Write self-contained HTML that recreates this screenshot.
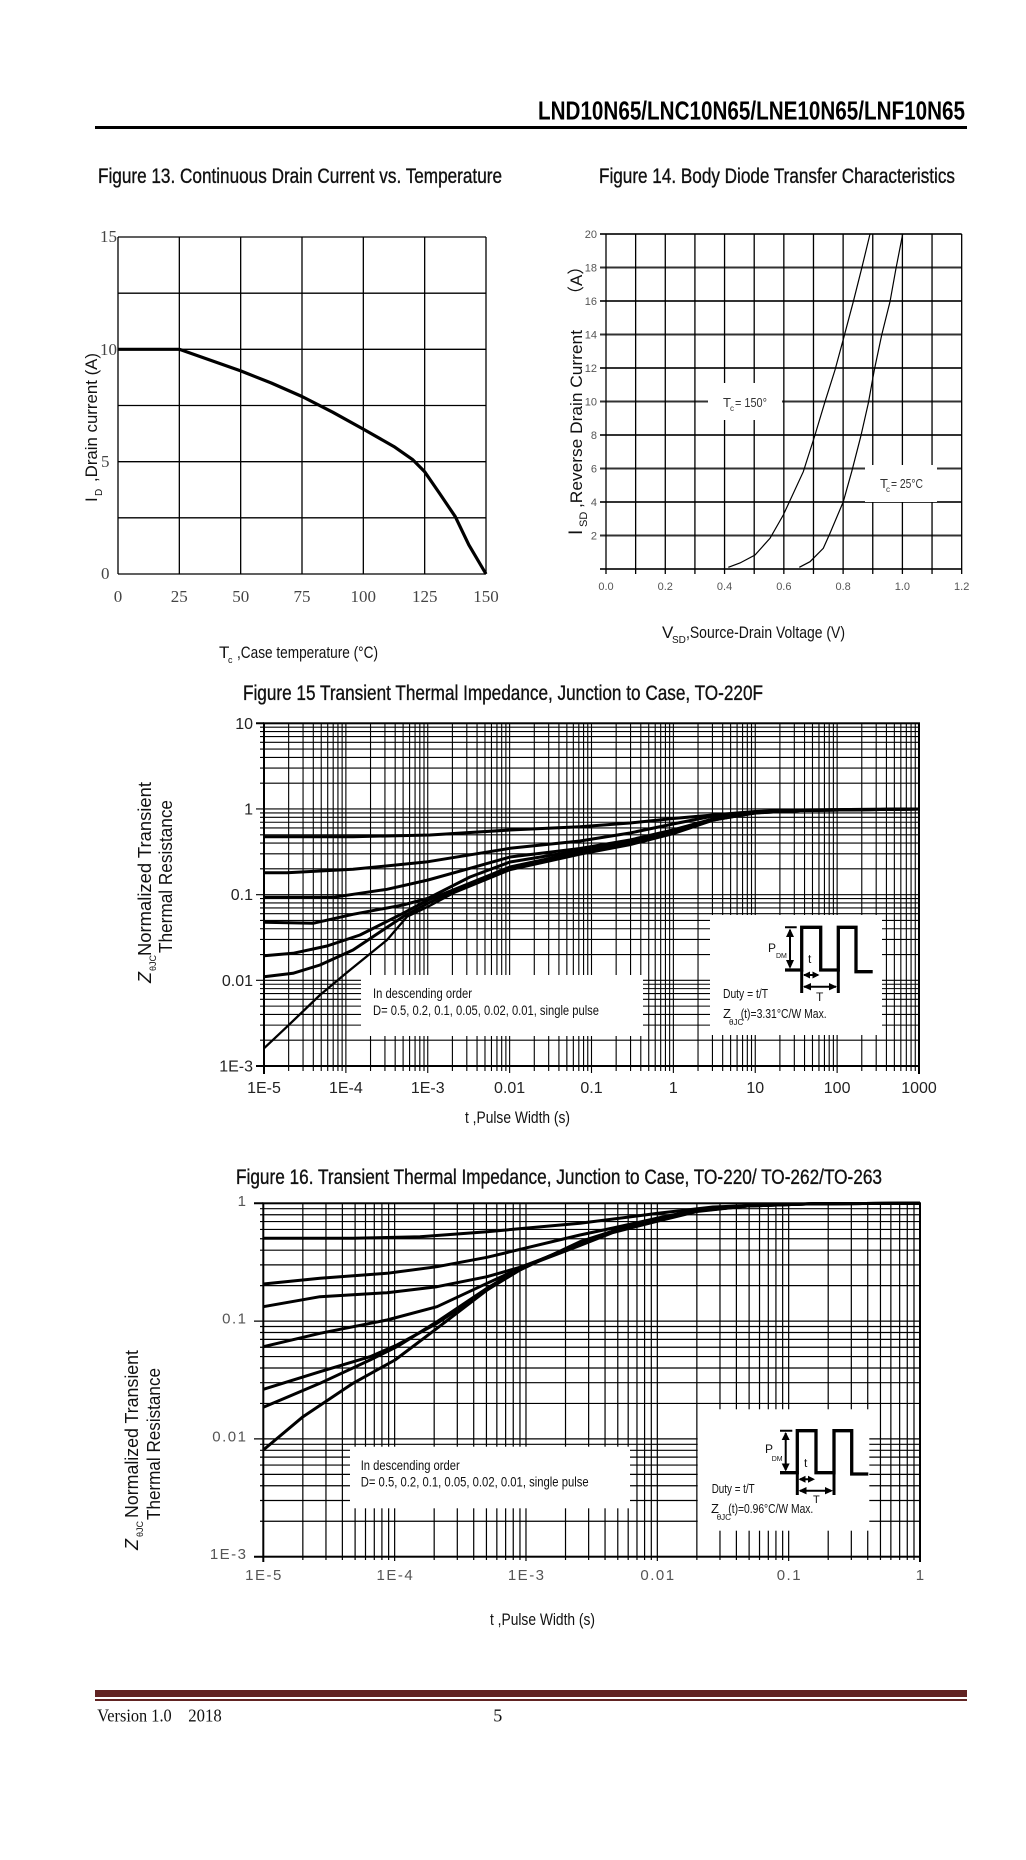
<!DOCTYPE html>
<html><head><meta charset="utf-8">
<style>
html,body{margin:0;padding:0;background:#fff;width:1026px;height:1860px;overflow:hidden}
svg{display:block}
.s{font-family:"Liberation Sans",Arial,sans-serif}
.n{font-family:"Liberation Sans Narrow","Liberation Sans",Arial,sans-serif}
.r{font-family:"Liberation Serif","Times New Roman",serif}
.t{stroke:#111;stroke-width:0.35}
</style></head>
<body>
<svg width="1026" height="1860" viewBox="0 0 1026 1860" xmlns="http://www.w3.org/2000/svg">
<rect x="0" y="0" width="1026" height="1860" fill="#fff"/>

<!-- HEADER -->
<text class="n" x="538" y="119.5" font-size="26" font-weight="bold" textLength="427" lengthAdjust="spacingAndGlyphs" fill="#000">LND10N65/LNC10N65/LNE10N65/LNF10N65</text>
<rect x="95" y="126" width="872" height="3" fill="#000"/>

<!-- FIGURE 13 -->
<text class="n t" x="98" y="183" font-size="21" textLength="404" lengthAdjust="spacingAndGlyphs" fill="#111">Figure 13. Continuous Drain Current vs. Temperature</text>
<g stroke="#000" stroke-width="1.3" fill="none">
<path d="M118 237V574M179.33 237V574M240.67 237V574M302 237V574M363.33 237V574M424.67 237V574M486 237V574"/>
<path d="M118 237H486M118 293.17H486M118 349.33H486M118 405.5H486M118 461.67H486M118 517.83H486M118 574H486"/>
</g>
<polyline fill="none" stroke="#000" stroke-width="3.2" stroke-linejoin="round" points="118,349.3 179.3,349.3 240.7,370.9 271.3,383 302,396.5 332.7,412.2 363.3,429.1 394,446.6 412.4,459.4 424.7,471.8 439.4,493.1 455.3,516.7 468.8,544.8 486,574"/>
<g class="r" font-size="17" fill="#444">
<text x="100" y="242">15</text>
<text x="100" y="355">10</text>
<text x="101" y="467">5</text>
<text x="101" y="579">0</text>
</g>
<g class="r" font-size="17" fill="#444" text-anchor="middle">
<text x="118" y="602">0</text>
<text x="179.3" y="602">25</text>
<text x="240.7" y="602">50</text>
<text x="302" y="602">75</text>
<text x="363.3" y="602">100</text>
<text x="424.7" y="602">125</text>
<text x="486" y="602">150</text>
</g>
<text class="n" x="219" y="658" font-size="17" fill="#111">T</text>
<text class="n" x="228" y="663" font-size="9" fill="#111">c</text>
<text class="n" x="237" y="658" font-size="17" textLength="141" lengthAdjust="spacingAndGlyphs" fill="#111">,Case temperature (°C)</text>
<g transform="translate(97,502) rotate(-90)" class="s" fill="#111">
<text x="0" y="0" font-size="17">I</text>
<text x="6" y="5" font-size="10">D</text>
<text x="20" y="0" font-size="17" textLength="129" lengthAdjust="spacingAndGlyphs">,Drain current (A)</text>
</g>

<!-- FIGURE 14 -->
<text class="n t" x="599" y="183" font-size="21" textLength="356" lengthAdjust="spacingAndGlyphs" fill="#111">Figure 14. Body Diode Transfer Characteristics</text>
<g stroke="#333" stroke-width="2" fill="none">
<path d="M600 569H961.7M600 535.5H961.7M600 502H961.7M600 468.5H961.7M600 435H961.7M600 401.5H961.7M600 368H961.7M600 334.5H961.7M600 301H961.7M600 267.5H961.7M600 234H961.7"/>
</g>
<g stroke="#000" stroke-width="1.3" fill="none">
<path d="M606 234V574M635.64 234V574M665.28 234V574M694.92 234V574M724.56 234V574M754.2 234V574M783.84 234V574M813.48 234V574M843.12 234V574M872.76 234V574M902.4 234V574M932.04 234V574M961.68 234V574"/>
</g>
<rect x="708" y="383" width="74" height="37" fill="#fff"/>
<rect x="865" y="465" width="72" height="37" fill="#fff"/>
<polyline fill="none" stroke="#000" stroke-width="1.2" points="728.3,567.3 740,563 755,555 770,538.3 783.3,515 803.3,471.7 815,435 825,401.7 835,370 844,336.7 853.3,301.7 861.7,268.3 870,234"/>
<polyline fill="none" stroke="#000" stroke-width="1.2" points="799.3,567.3 810,561.7 823.3,548.3 830,533.3 843.3,501.7 851.7,471.7 860.7,436.7 868.3,403.3 874.3,370 881.7,335 890,301.7 896,268.3 902.7,234"/>
<g class="s" font-size="11" fill="#555" text-anchor="end">
<text x="597" y="238">20</text>
<text x="597" y="271.5">18</text>
<text x="597" y="305">16</text>
<text x="597" y="338.5">14</text>
<text x="597" y="372">12</text>
<text x="597" y="405.5">10</text>
<text x="597" y="439">8</text>
<text x="597" y="472.5">6</text>
<text x="597" y="506">4</text>
<text x="597" y="539.5">2</text>
</g>
<g class="s" font-size="11" fill="#555" text-anchor="middle">
<text x="606" y="590">0.0</text>
<text x="665.28" y="590">0.2</text>
<text x="724.56" y="590">0.4</text>
<text x="783.84" y="590">0.6</text>
<text x="843.12" y="590">0.8</text>
<text x="902.4" y="590">1.0</text>
<text x="961.68" y="590">1.2</text>
</g>
<text class="n" x="723" y="407" font-size="13" fill="#333">T</text>
<text class="n" x="730" y="411" font-size="8" fill="#333">c</text>
<text class="n" x="735" y="407" font-size="13" textLength="32" lengthAdjust="spacingAndGlyphs" fill="#333">= 150°</text>
<text class="n" x="880" y="488" font-size="13" fill="#333">T</text>
<text class="n" x="886" y="492" font-size="8" fill="#333">c</text>
<text class="n" x="891" y="488" font-size="13" textLength="32" lengthAdjust="spacingAndGlyphs" fill="#333">= 25°C</text>
<text class="n" x="662" y="638" font-size="17" fill="#111">V</text>
<text class="n" x="672" y="643" font-size="10" fill="#111">SD</text>
<text class="n" x="686" y="638" font-size="17" textLength="159" lengthAdjust="spacingAndGlyphs" fill="#111">,Source-Drain Voltage (V)</text>
<g transform="translate(582,535) rotate(-90)" class="s" fill="#111">
<text x="0" y="0" font-size="19">I</text>
<text x="8" y="5" font-size="11">SD</text>
<text x="27" y="0" font-size="17" textLength="178" lengthAdjust="spacingAndGlyphs">,Reverse Drain Current</text>
<text x="232" y="0" font-size="17" class="s">（A）</text>
</g>

<!-- FIGURE 15 -->
<text class="n t" x="243" y="700" font-size="21" textLength="520" lengthAdjust="spacingAndGlyphs" fill="#111">Figure 15 Transient Thermal Impedance, Junction to Case, TO-220F</text>
<g stroke="#000" stroke-width="1.1" fill="none">
<path d="M288.65 723.3V1071M303.06 723.3V1071M313.29 723.3V1071M321.23 723.3V1071M327.71 723.3V1071M333.19 723.3V1071M337.94 723.3V1071M342.13 723.3V1071M370.53 723.3V1071M384.94 723.3V1071M395.17 723.3V1071M403.11 723.3V1071M409.59 723.3V1071M415.07 723.3V1071M419.82 723.3V1071M424.01 723.3V1071M452.4 723.3V1071M466.81 723.3V1071M477.04 723.3V1071M484.98 723.3V1071M491.46 723.3V1071M496.94 723.3V1071M501.69 723.3V1071M505.88 723.3V1071M534.28 723.3V1071M548.69 723.3V1071M558.92 723.3V1071M566.86 723.3V1071M573.34 723.3V1071M578.82 723.3V1071M583.57 723.3V1071M587.76 723.3V1071M616.15 723.3V1071M630.56 723.3V1071M640.79 723.3V1071M648.73 723.3V1071M655.21 723.3V1071M660.69 723.3V1071M665.44 723.3V1071M669.63 723.3V1071M698.03 723.3V1071M712.44 723.3V1071M722.67 723.3V1071M730.61 723.3V1071M737.09 723.3V1071M742.57 723.3V1071M747.32 723.3V1071M751.51 723.3V1071M779.9 723.3V1071M794.31 723.3V1071M804.54 723.3V1071M812.48 723.3V1071M818.96 723.3V1071M824.44 723.3V1071M829.19 723.3V1071M833.38 723.3V1071M861.78 723.3V1071M876.19 723.3V1071M886.42 723.3V1071M894.36 723.3V1071M900.84 723.3V1071M906.32 723.3V1071M911.07 723.3V1071M915.26 723.3V1071"/>
<path d="M345.88 723.3V1073M427.75 723.3V1073M509.63 723.3V1073M591.5 723.3V1073M673.38 723.3V1073M755.25 723.3V1073M837.13 723.3V1073"/>
<path d="M260 1040.21H919M260 1025.12H919M260 1014.42H919M260 1006.12H919M260 999.33H919M260 993.6H919M260 988.63H919M260 984.25H919M260 954.54H919M260 939.45H919M260 928.75H919M260 920.45H919M260 913.66H919M260 907.93H919M260 902.96H919M260 898.58H919M260 868.86H919M260 853.77H919M260 843.07H919M260 834.77H919M260 827.98H919M260 822.25H919M260 817.28H919M260 812.9H919M260 783.19H919M260 768.1H919M260 757.4H919M260 749.1H919M260 742.31H919M260 736.58H919M260 731.61H919M260 727.23H919"/>
<path d="M256 980.33H919M256 894.65H919M256 808.98H919"/>
</g>
<rect x="361" y="975" width="282" height="61" fill="#fff"/>
<rect x="710" y="915" width="172" height="120" fill="#fff"/>
<g stroke="#000" stroke-width="2" fill="none">
<rect x="264" y="723.3" width="655" height="342.7"/>
<path d="M256 723.3H264M256 1066H264M264 1066V1074M919 1066V1074"/>
</g>
<g fill="none" stroke="#000" stroke-width="3" stroke-linejoin="round">
<polyline points="264,836.7 353,836.7 430,835 510,830 580,826.7 630,823 673,818.5 713,815 755,811.5 800,810 850,809.5 919,809"/>
<polyline points="264,872.7 287,872.7 353,869.3 428,861.7 510,848.3 580,841 630,833 673,824 713,816 755,812 800,810.5 850,809.5 919,809"/>
<polyline points="264,897.3 333,897.3 387,889.3 428,880 470,868.3 510,857 580,848.5 630,840 673,830 713,819 755,812.5 800,810.5 919,809"/>
<polyline points="264,922.3 313,923.3 353,914.3 403,905 428,898.3 470,877 510,862 580,850.5 630,842 673,831 713,819 755,812.5 800,810.5 919,809"/>
<polyline points="264,955.7 293,953.3 327,946 360,935 403,913.3 428,900 453,890 510,867 580,852 630,843 673,832 713,819.5 755,813 800,810.5 919,809"/>
<polyline points="264,976.7 293,973.3 320,965 353,950 403,916.7 428,903.3 453,891.7 510,868.3 580,853 630,844 673,833 713,820 755,813 800,810.5 919,809"/>
<polyline stroke-width="2.3" points="264,1048.3 287,1026.7 320,995 346,973.3 387,940 407,916.7 428,906.7 453,893.3 510,870 580,854.5 630,845 673,834 713,820.5 755,813 800,810.5 919,809"/>
</g>
<g class="s" font-size="16" fill="#222" text-anchor="end">
<text x="253" y="728.8">10</text>
<text x="253" y="814.5">1</text>
<text x="253" y="900.2">0.1</text>
<text x="253" y="985.8">0.01</text>
<text x="253" y="1071.5">1E-3</text>
</g>
<g class="s" font-size="16" fill="#222" text-anchor="middle">
<text x="264" y="1093">1E-5</text>
<text x="345.88" y="1093">1E-4</text>
<text x="427.75" y="1093">1E-3</text>
<text x="509.63" y="1093">0.01</text>
<text x="591.5" y="1093">0.1</text>
<text x="673.38" y="1093">1</text>
<text x="755.25" y="1093">10</text>
<text x="837.13" y="1093">100</text>
<text x="919" y="1093">1000</text>
</g>
<text class="n" x="465" y="1123" font-size="17" textLength="105" lengthAdjust="spacingAndGlyphs" fill="#111">t ,Pulse Width (s)</text>
<g transform="translate(151,983) rotate(-90)" class="s" fill="#111">
<text x="0" y="0" font-size="18" font-style="italic">Z</text>
<text x="12" y="5" font-size="9">θJC</text>
<text x="27" y="0" font-size="18" textLength="174" lengthAdjust="spacingAndGlyphs">Normalized Transient</text>
</g>
<g transform="translate(172,953) rotate(-90)" class="s" fill="#111">
<text x="0" y="0" font-size="18" textLength="153" lengthAdjust="spacingAndGlyphs">Thermal Resistance</text>
</g>
<text class="n" x="373" y="998" font-size="14" textLength="99" lengthAdjust="spacingAndGlyphs" fill="#111">In descending order</text>
<text class="n" x="373" y="1015" font-size="14" textLength="226" lengthAdjust="spacingAndGlyphs" fill="#111">D= 0.5, 0.2, 0.1, 0.05, 0.02, 0.01, single pulse</text>
<text class="n" x="723" y="998" font-size="13" textLength="45" lengthAdjust="spacingAndGlyphs" fill="#111">Duty = t/T</text>
<text class="n" x="723" y="1018" font-size="13" fill="#111">Z</text>
<text class="n" x="729" y="1025" font-size="8" fill="#111">θJC</text>
<text class="n" x="740.7" y="1018" font-size="13" textLength="86" lengthAdjust="spacingAndGlyphs" fill="#111">(t)=3.31°C/W Max.</text>
<g fill="none" stroke="#000">
<path stroke-width="3.3" d="M785 970H801.7V927.3H820.7V970H838.3V927.3H856V971.7H872.7"/>
<path stroke-width="3" d="M801.7 970V993M838.3 970V993"/>
<path stroke-width="2" d="M785 927.3H796.7M790 930V967M804 975H818M804 986.7H836"/>
</g>
<g fill="#000">
<polygon points="790,928.5 786,937 794,937"/>
<polygon points="790,969 786,960 794,960"/>
<polygon points="803,975 810,971.5 810,978.5"/>
<polygon points="819.5,975 812.5,971.5 812.5,978.5"/>
<polygon points="803,986.7 811,983 811,990.4"/>
<polygon points="837,986.7 829,983 829,990.4"/>
</g>
<text class="n" x="768" y="952" font-size="12" fill="#111">P</text>
<text class="n" x="776" y="958" font-size="7" fill="#111">DM</text>
<text class="n" x="808" y="963" font-size="12" fill="#111">t</text>
<text class="n" x="816" y="1001" font-size="12" fill="#111">T</text>

<!-- FIGURE 16 -->
<text class="n t" x="236" y="1184" font-size="21" textLength="646" lengthAdjust="spacingAndGlyphs" fill="#111">Figure 16. Transient Thermal Impedance, Junction to Case, TO-220/ TO-262/TO-263</text>
<g stroke="#000" stroke-width="1.2" fill="none">
<path d="M302.84 1203.3V1560M325.96 1203.3V1560M342.37 1203.3V1560M355.1 1203.3V1560M365.5 1203.3V1560M374.29 1203.3V1560M381.91 1203.3V1560M388.63 1203.3V1560M434.18 1203.3V1560M457.3 1203.3V1560M473.71 1203.3V1560M486.44 1203.3V1560M496.84 1203.3V1560M505.63 1203.3V1560M513.25 1203.3V1560M519.97 1203.3V1560M565.52 1203.3V1560M588.64 1203.3V1560M605.05 1203.3V1560M617.78 1203.3V1560M628.18 1203.3V1560M636.97 1203.3V1560M644.59 1203.3V1560M651.31 1203.3V1560M696.86 1203.3V1560M719.98 1203.3V1560M736.39 1203.3V1560M749.12 1203.3V1560M759.52 1203.3V1560M768.31 1203.3V1560M775.93 1203.3V1560M782.65 1203.3V1560M828.2 1203.3V1560M851.32 1203.3V1560M867.73 1203.3V1560M880.46 1203.3V1560M890.86 1203.3V1560M899.65 1203.3V1560M907.27 1203.3V1560M913.99 1203.3V1560"/>
<path d="M394.64 1203.3V1561M525.98 1203.3V1561M657.32 1203.3V1561M788.66 1203.3V1561"/>
<path d="M260 1521.24H920M260 1500.49H920M260 1485.78H920M260 1474.36H920M260 1465.04H920M260 1457.15H920M260 1450.32H920M260 1444.29H920M260 1403.44H920M260 1382.69H920M260 1367.98H920M260 1356.56H920M260 1347.24H920M260 1339.35H920M260 1332.52H920M260 1326.49H920M260 1285.64H920M260 1264.89H920M260 1250.18H920M260 1238.76H920M260 1229.44H920M260 1221.55H920M260 1214.72H920M260 1208.69H920"/>
<path d="M254 1438.9H920M254 1321.1H920"/>
</g>
<rect x="350" y="1446.7" width="280" height="61.6" fill="#fff"/>
<rect x="697.7" y="1409.3" width="171.6" height="121.4" fill="#fff"/>
<g stroke="#000" stroke-width="2" fill="none">
<rect x="263.3" y="1203.3" width="656.7" height="353.4"/>
<path d="M254 1203.3H263.3M254 1556.7H263.3M263.3 1556.7V1562M920 1556.7V1562"/>
</g>
<g fill="none" stroke="#000" stroke-width="3" stroke-linejoin="round">
<polyline points="263.3,1238.3 353,1238.3 420,1236.7 487,1231.7 580,1223.3 658,1213.3 713,1207 780,1204.3 850,1203.6 920,1203.3"/>
<polyline points="263.3,1284 320,1278.3 387,1273.3 437,1266.7 487,1257.3 580,1235 613,1228 658,1218 697,1210 747,1205.5 813,1203.7 920,1203.3"/>
<polyline points="263.3,1306.7 320,1296.7 387,1292.7 437,1286.7 487,1276.7 520,1267.3 580,1245 613,1232 658,1220.5 697,1211 747,1206 813,1203.7 920,1203.3"/>
<polyline points="263.3,1346.7 320,1333.3 387,1320 437,1306.7 487,1283.3 520,1268.3 580,1245.5 613,1232.5 658,1221 697,1211.5 747,1206 813,1203.7 920,1203.3"/>
<polyline points="263.3,1389.3 320,1371.7 370,1356.7 397,1345 437,1323.3 487,1290 520,1268.3 580,1243.3 613,1231.7 658,1220 697,1211 747,1206 813,1203.7 920,1203.3"/>
<polyline points="263.3,1407.3 320,1383.3 370,1360 397,1346.7 437,1321.7 487,1288.3 520,1268.3 580,1243.3 613,1231.7 658,1220 697,1211 747,1206 813,1203.7 920,1203.3"/>
<polyline points="263.3,1450 303,1416.7 353,1383.3 395,1360 437,1328.3 487,1290 520,1270 580,1241.7 613,1231 658,1219.5 697,1210.5 747,1205.5 813,1203.7 920,1203.3"/>
</g>
<g class="s" font-size="15" fill="#555" text-anchor="end" letter-spacing="1.5">
<text x="247.5" y="1205.8">1</text>
<text x="247.5" y="1323.6">0.1</text>
<text x="247.5" y="1441.4">0.01</text>
<text x="247.5" y="1559.2">1E-3</text>
</g>
<g class="s" font-size="15" fill="#555" text-anchor="middle" letter-spacing="1.5">
<text x="264" y="1580">1E-5</text>
<text x="395.4" y="1580">1E-4</text>
<text x="526.7" y="1580">1E-3</text>
<text x="658" y="1580">0.01</text>
<text x="789.4" y="1580">0.1</text>
<text x="920.7" y="1580">1</text>
</g>
<text class="n" x="490" y="1625" font-size="17" textLength="105" lengthAdjust="spacingAndGlyphs" fill="#111">t ,Pulse Width (s)</text>
<g transform="translate(138,1550) rotate(-90)" class="s" fill="#111">
<text x="0" y="0" font-size="18" font-style="italic">Z</text>
<text x="13" y="5" font-size="9">θJC</text>
<text x="32" y="0" font-size="18" textLength="168" lengthAdjust="spacingAndGlyphs">Normalized Transient</text>
</g>
<g transform="translate(160,1520) rotate(-90)" class="s" fill="#111">
<text x="0" y="0" font-size="18" textLength="152" lengthAdjust="spacingAndGlyphs">Thermal Resistance</text>
</g>
<text class="n" x="360.7" y="1470" font-size="14" textLength="99" lengthAdjust="spacingAndGlyphs" fill="#111">In descending order</text>
<text class="n" x="360.7" y="1486.7" font-size="14" textLength="228" lengthAdjust="spacingAndGlyphs" fill="#111">D= 0.5, 0.2, 0.1, 0.05, 0.02, 0.01, single pulse</text>
<text class="n" x="711.7" y="1493" font-size="13" textLength="43" lengthAdjust="spacingAndGlyphs" fill="#111">Duty = t/T</text>
<text class="n" x="711" y="1513" font-size="13" fill="#111">Z</text>
<text class="n" x="716.7" y="1520" font-size="8" fill="#111">θJC</text>
<text class="n" x="728.3" y="1513" font-size="13" textLength="85" lengthAdjust="spacingAndGlyphs" fill="#111">(t)=0.96°C/W Max.</text>
<text class="n" x="813" y="1503" font-size="11" fill="#111">T</text>
<g fill="none" stroke="#000">
<path stroke-width="3.3" d="M780 1472.7H797.3V1430.7H816V1472.7H834V1430.7H851.7V1474H868.3"/>
<path stroke-width="3" d="M797.3 1472.7V1495M834 1472.7V1495"/>
<path stroke-width="2" d="M780 1430.7H792.3M785.7 1433V1470M800 1479.3H813M800 1490.7H831"/>
</g>
<g fill="#000">
<polygon points="785.7,1432 781.7,1440 789.7,1440"/>
<polygon points="785.7,1471.5 781.7,1463.5 789.7,1463.5"/>
<polygon points="798.5,1479.3 805.5,1475.8 805.5,1482.8"/>
<polygon points="815,1479.3 808,1475.8 808,1482.8"/>
<polygon points="798.5,1490.7 806.5,1487 806.5,1494.4"/>
<polygon points="833,1490.7 825,1487 825,1494.4"/>
</g>
<text class="n" x="765" y="1453" font-size="12" fill="#111">P</text>
<text class="n" x="771.7" y="1461" font-size="7" fill="#111">DM</text>
<text class="n" x="804" y="1467" font-size="12" fill="#111">t</text>

<!-- FOOTER -->
<rect x="95" y="1690" width="872" height="7" fill="#622423"/>
<rect x="95" y="1699" width="872" height="2" fill="#622423"/>
<text class="r" x="97.3" y="1721.7" font-size="18" textLength="74.4" lengthAdjust="spacingAndGlyphs" fill="#111">Version 1.0</text>
<text class="r" x="188.3" y="1721.7" font-size="18" textLength="33.4" lengthAdjust="spacingAndGlyphs" fill="#111">2018</text>
<text class="r" x="493.3" y="1721.7" font-size="18" fill="#111">5</text>
</svg>
</body></html>
